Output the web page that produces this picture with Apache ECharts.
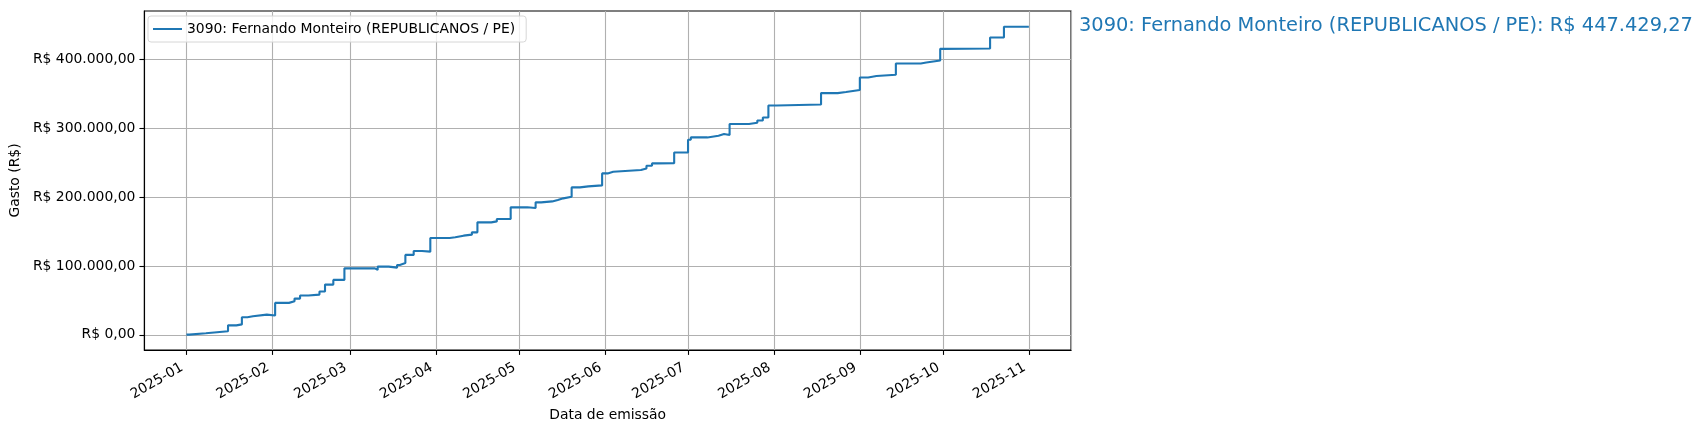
<!DOCTYPE html>
<html lang="pt-BR">
<head>
    <meta charset="UTF-8">
    <title>Gasto acumulado</title>
    <script src="https://cdn.jsdelivr.net/npm/echarts@6/dist/echarts.min.js"></script>
    <style>
        html, body { margin: 0; padding: 0; background: #fff; }
    </style>
</head>
<body>
<div id="main" style="width: 1705px;height: 430px"></div>
<script>
    // datas de emissão (cada degrau) e gasto acumulado em R$
    var dates = [
        '2025-01-01', '2025-01-02', '2025-01-08', '2025-01-16', '2025-01-19', '2025-01-21',
        '2025-01-23', '2025-01-25', '2025-01-30', '2025-02-02', '2025-02-07', '2025-02-09',
        '2025-02-11', '2025-02-14', '2025-02-14', '2025-02-18', '2025-02-20', '2025-02-23',
        '2025-02-27', '2025-03-10', '2025-03-11', '2025-03-15', '2025-03-18', '2025-03-19',
        '2025-03-21', '2025-03-24', '2025-03-27', '2025-03-30', '2025-04-06', '2025-04-08',
        '2025-04-11', '2025-04-14', '2025-04-16', '2025-04-21', '2025-04-23', '2025-04-28',
        '2025-05-04', '2025-05-07', '2025-05-09', '2025-05-13', '2025-05-15', '2025-05-17',
        '2025-05-20', '2025-05-23', '2025-05-26', '2025-05-31', '2025-06-02', '2025-06-04',
        '2025-06-14', '2025-06-16', '2025-06-18', '2025-06-20', '2025-06-20', '2025-06-26',
        '2025-07-01', '2025-07-02', '2025-07-08', '2025-07-12', '2025-07-14', '2025-07-16',
        '2025-07-23', '2025-07-26', '2025-07-28', '2025-07-30', '2025-08-02', '2025-08-18',
        '2025-08-24', '2025-08-27', '2025-09-01', '2025-09-04', '2025-09-07', '2025-09-14',
        '2025-09-23', '2025-09-25', '2025-09-30', '2025-10-01', '2025-10-18', '2025-10-23',
        '2025-11-01'
    ];
    var gasto = [
        400, 2400, 5200, 13800, 15200, 25500,
        27000, 29400, 28200, 46400, 48700, 52600,
        57000, 55500, 58400, 62800, 72900, 79700,
        96500, 94200, 99000, 97500, 101400, 104300,
        116000, 121700, 120700, 140600, 141500, 143900,
        145400, 148700, 163200, 164600, 168100, 185000,
        184000, 192200, 193600, 195600, 198000, 200400,
        213900, 215400, 216800, 234200, 236700, 239100,
        241400, 245400, 248700, 247200, 248900, 264600,
        283000, 286400, 288800, 291300, 289800, 305800,
        307700, 311000, 315400, 332800, 334200, 350700,
        352200, 355100, 373300, 375400, 377200, 393700,
        395100, 398000, 414900, 415400, 431300, 446900,
        447429.27
    ];
    var serieNome = '3090: Fernando Monteiro (REPUBLICANOS / PE)';
    var yTicks = [0, 100000, 200000, 300000, 400000];

    function brl(v) {
        var neg = v < 0;
        var s = Math.abs(v).toFixed(2).split('.');
        var inteiro = s[0].replace(/\B(?=(\d{3})+(?!\d))/g, '.');
        return 'R$ ' + (neg ? '-' : '') + inteiro + ',' + s[1];
    }

    var tempos = dates.map(function (d) { return new Date(d + 'T00:00:00').getTime(); });
    var serie = tempos.map(function (t, i) { return [t, gasto[i]]; });

    // margens de 5% como no matplotlib
    var tMin = tempos[0], tMax = tempos[tempos.length - 1];
    var gMin = Math.min.apply(null, gasto), gMax = Math.max.apply(null, gasto);
    var xPad = (tMax - tMin) * 0.05, yPad = (gMax - gMin) * 0.05;

    var fonte = 'DejaVu Sans';
    var chartDom = document.getElementById('main');
    var myChart = echarts.init(chartDom, null, {renderer: 'canvas'});
    var option = {
        animation: false,
        textStyle: {fontFamily: fonte},
        title: {
            text: serieNome + ': ' + brl(gasto[gasto.length - 1]),
            left: 1074,
            top: 11,
            textStyle: {fontFamily: fonte, fontSize: 19.4, fontWeight: 'normal', color: '#1f77b4'}
        },
        legend: {
            left: 148,
            top: 16,
            padding: [6, 11, 6, 5],
            icon: 'rect',
            itemWidth: 29,
            itemHeight: 2,
            itemGap: 10,
            backgroundColor: 'rgba(255,255,255,0.8)',
            borderColor: '#d6d6d6',
            borderWidth: 1,
            borderRadius: 3,
            textStyle: {fontFamily: fonte, fontSize: 13.9, color: '#000'},
            data: [serieNome]
        },
        grid: {
            left: 141,
            right: 634,
            top: 11,
            bottom: 80,
            show: true,
            borderColor: '#000',
            borderWidth: 1.1,
            containLabel: false
        },
        xAxis: {
            type: 'time',
            min: tMin - xPad,
            max: tMax + xPad,
            splitNumber: 11,
            name: 'Data de emissão',
            nameLocation: 'middle',
            nameGap: 53,
            nameTextStyle: {fontFamily: fonte, fontSize: 13.9, color: '#000'},
            axisLine: {show: true, onZero: false, lineStyle: {color: '#000', width: 1.1}},
            axisTick: {show: true, length: 4.9, lineStyle: {color: '#000', width: 1.1}},
            axisLabel: {
                rotate: 30,
                margin: 14,
                padding: [0, 5, 0, 0],
                fontFamily: fonte,
                fontSize: 13.9,
                color: '#000',
                hideOverlap: false,
                formatter: function (v) {
                    var d = new Date(v);
                    var m = d.getMonth() + 1;
                    return d.getFullYear() + '-' + (m < 10 ? '0' + m : m);
                }
            },
            splitLine: {show: true, lineStyle: {color: '#b0b0b0', width: 1.1}},
            minorTick: {show: false}
        },
        yAxis: {
            type: 'value',
            min: gMin - yPad,
            max: gMax + yPad,
            splitNumber: 5,
            name: 'Gasto (R$)',
            nameLocation: 'middle',
            nameGap: 115,
            nameTextStyle: {fontFamily: fonte, fontSize: 13.9, color: '#000'},
            axisLine: {show: true, onZero: false, lineStyle: {color: '#000', width: 1.1}},
            axisTick: {show: true, length: 4.9, customValues: yTicks, lineStyle: {color: '#000', width: 1.1}},
            axisLabel: {
                margin: 9,
                fontFamily: fonte,
                fontSize: 13.9,
                color: '#000',
                showMinLabel: false,
                showMaxLabel: false,
                formatter: function (v) { return brl(v); }
            },
            splitLine: {show: true, lineStyle: {color: '#b0b0b0', width: 1.1}}
        },
        series: [
            {
                name: serieNome,
                type: 'line',
                step: 'end',
                showSymbol: false,
                data: serie,
                lineStyle: {color: '#1f77b4', width: 2.1},
                itemStyle: {color: '#1f77b4'}
            }
        ]
    };
    option && myChart.setOption(option);
</script>
</body>
</html>
